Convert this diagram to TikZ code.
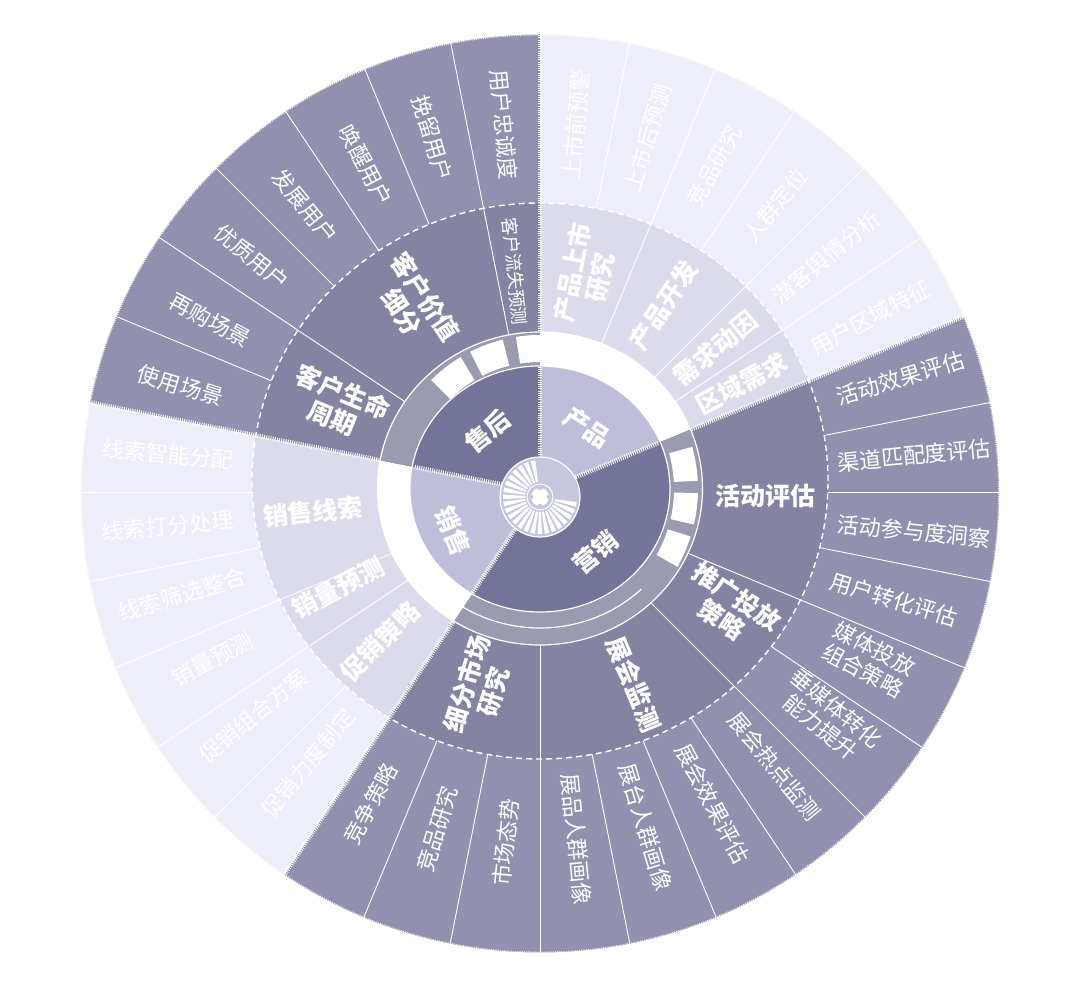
\documentclass[tikz,border=0pt]{standalone}
\usepackage{fontspec}
\setmainfont{Noto Sans CJK SC}
\definecolor{Lthree}{HTML}{9191AF}
\definecolor{Ltwo}{HTML}{8484A2}
\definecolor{Lone}{HTML}{747498}
\definecolor{Band}{HTML}{9A9AB0}
\definecolor{Pone}{HTML}{BEBEDA}
\definecolor{Ptwo}{HTML}{DBDBEC}
\definecolor{Pthree}{HTML}{EEEEFA}
\definecolor{Centerc}{HTML}{C6C6DF}
\tikzset{
  tthree/.style={text=white, font=\fontsize{22}{25}\selectfont, align=center, inner sep=0pt},
  ttwo/.style={text=white, font=\fontsize{25}{28}\selectfont\bfseries, align=center, inner sep=0pt},
  tone/.style={text=white, font=\fontsize{25}{28}\selectfont\bfseries, inner sep=0pt},
  comb/.style={white, line width=4.5pt, dash pattern=on 0.9pt off 1.3pt},
  leafline/.style={white, line width=0.9pt},
  dashring/.style={white, line width=1.4pt, dash pattern=on 6pt off 4pt},
  bandline/.style={white, line width=1.2pt}
}
\newcommand\fillsector[6]{%
  \begin{scope}
    \clip (0,0) -- (#1:900) arc[start angle=#1, end angle=#2, radius=900pt] -- cycle;
    \fill[#3] (0,-1.5) circle[radius=459pt];
    \fill[#4] (0,11) ellipse[x radius=288pt, y radius=278pt];
    \fill[#5] (0,3.5) ellipse[x radius=162.5pt, y radius=156.5pt];
    \fill[#6] (0,3) ellipse[x radius=130pt, y radius=123pt];
  \end{scope}}
\newcommand\bandbox[4]{%
  \fill[white] ([shift={(0,3)}]#1:#3) arc[start angle=#1, end angle=#2, radius=#3pt]
    -- ([shift={(0,3)}]#2:#4) arc[start angle=#2, end angle=#1, radius=#4pt] -- cycle;}
\begin{document}
\begin{tikzpicture}[x=1pt,y=1pt]
\fill[white] (-540,-495) rectangle (540,492);
% sectors: level 3, level 2, band, level 1
\fillsector{22.5}{90}{Pthree}{Ptwo}{white}{Pone}
\fillsector{-123.75}{22.5}{Lthree}{Ltwo}{Band}{Lone}
\fillsector{168.75}{236.25}{Pthree}{Ptwo}{white}{Pone}
\fillsector{90}{168.75}{Lthree}{Ltwo}{Band}{Lone}
% white blocks in the band
\bandbox{90}{99}{127}{154}
\bandbox{104}{117}{127}{154}
\bandbox{121}{135}{127}{154}
\bandbox{3}{15.5}{134}{158}
\bandbox{-13}{-1.5}{134}{158}
\bandbox{-29.5}{-17.5}{134}{158}
\draw[bandline] (0,3) ellipse[x radius=130pt, y radius=123pt];
\draw[bandline] (0,3.5) ellipse[x radius=162.5pt, y radius=156.5pt];
\draw[bandline] (0,3) ++(-46:146 and 139) arc[start angle=-46, end angle=-123.75, x radius=146pt, y radius=139pt];
% leaf lines in the outer ring
\begin{scope}[even odd rule]
  \clip (0,-1.5) circle[radius=459pt] (0,11) ellipse[x radius=288pt, y radius=278pt];
  \foreach \a in {78.75,56.25,11.25,0,-11.25,-33.75,-56.25,-67.5,-78.75,-101.25,-112.5,-135,-168.75,-180,157.5,135,123.75,112.5}
    \draw[leafline] (\a:240) -- (\a:470);
\end{scope}
% lines between second-level sectors
\begin{scope}[even odd rule]
  \clip (0,-1.5) circle[radius=459pt] (0,3.5) ellipse[x radius=162.5pt, y radius=156.5pt];
  \foreach \a in {67.5,45,33.75,-22.5,-45,-90,-146.25,-157.5,146.25,101.25}
    \draw[leafline] (\a:140) -- (\a:470);
\end{scope}
\draw[dashring] (0,11) ellipse[x radius=288pt, y radius=278pt];
\draw[white, line width=0.8pt, dash pattern=on 1pt off 1.2pt] (0,-1.5) circle[radius=458.5pt];
% main boundaries (comb lines)
\draw[comb] (90:30) -- (90:125);
\draw[comb] (90:161) -- (90:457);
\draw[comb] (22.5:30) -- (22.5:129);
\draw[comb] (22.5:164) -- (22.5:458);
\draw[comb] (-123.75:30) -- (-123.75:121.5);
\draw[comb] (-123.75:156.5) -- (-123.75:459.5);
\draw[comb] (168.75:30) -- (168.75:129);
\draw[comb] (168.75:164) -- (168.75:458);
% center decoration
\begin{scope}[shift={(0,-5)}]
  \fill[Centerc] (0,0) circle[radius=40pt];
  \foreach \a in {97.5,108.75,...,345}
    \fill[white] (\a:15) -- (\a:37) arc[start angle=\a, end angle=\a+7, radius=37pt] -- (\a+7:15) arc[start angle=\a+7, end angle=\a, radius=15pt] -- cycle;
  \draw[white, line width=1.2pt] (0,0) circle[radius=40pt];
  \fill[Centerc] (0,0) circle[radius=14pt];
  \draw[white, line width=1pt] (0,0) circle[radius=13pt];
  \fill[white] (0,0) circle[radius=9pt];
  \foreach \a in {0,90,180,270}
    \fill[Centerc] (\a:9.5) circle[radius=2.6pt];
\end{scope}
% level 1 labels
\node[tone, rotate=-33.75] (a1) at (54:80) {产品};
\node[tone, rotate=39.4] (a2) at (-47:82) {营销};
\node[tone, rotate=-67.5] (a3) at (-156:95) {销售};
\node[tone, rotate=39.4] (a4) at (131:80) {售后};
% level 2 labels
\node[ttwo, rotate=78.75] (b1) at (78:222) {产品上市\\研究};
\node[ttwo, rotate=56.25] (b2) at (56.5:224) {产品开发};
\node[ttwo, rotate=39.4] (b3) at (39.4:227) {需求动因};
\node[ttwo, rotate=28.1] (b4) at (28.3:229) {区域需求};
\node[ttwo] (b5) at (-1:226) {活动评估};
\node[ttwo, rotate=-33.75] (b6) at (-31.5:222) {推广投放\\策略};
\node[ttwo, rotate=-67.5] (b7) at (-64:214) {展会监测};
\node[ttwo, rotate=73.1] (b8) at (-107:205) {细分市场\\研究};
\node[ttwo, rotate=45] (b9) at (-137:219) {促销策略};
\node[ttwo, rotate=28.1] (b10) at (-154.6:224) {销量预测};
\node[ttwo, rotate=5.6] (b11) at (-175:228) {销售线索};
\node[ttwo, rotate=-22.5] (b12) at (156.7:220) {客户生命\\周期};
\node[ttwo, rotate=-56.25] (b13) at (124:226) {客户价值\\细分};
\node[text=white, inner sep=0pt, font=\fontsize{18}{20}\selectfont, rotate=-84.4] (b14) at (96.5:222) {客户流失预测};
% level 3 labels
\node[tthree, rotate=84.4] (c1) at (84.4:369) {上市前预警};
\node[tthree, rotate=73.1] (c2) at (73.1:370) {上市后预测};
\node[tthree, rotate=61.9] (c3) at (61.9:370) {竞品研究};
\node[tthree, rotate=50.6] (c4) at (50.6:371) {人群定位};
\node[tthree, rotate=39.4] (c5) at (39.4:370) {潜客舆情分析};
\node[tthree, rotate=28.1] (c6) at (27.8:374) {用户区域特征};
\node[tthree, rotate=16.9] (c7) at (17.5:378) {活动效果评估};
\node[tthree, rotate=5.6] (c8) at (5.6:376) {渠道匹配度评估};
\node[tthree, rotate=-5.6] (c9) at (-6:376) {活动参与度洞察};
\node[tthree, rotate=-16.9] (c10) at (-16.9:370) {用户转化评估};
\node[tthree, rotate=-28.1] (c11) at (-27:369) {媒体投放\\组合策略};
\node[tthree, rotate=-39.4] (c12) at (-38:366) {垂媒体转化\\能力提升};
\node[tthree, rotate=-50.6] (c13) at (-49.5:361) {展会热点监测};
\node[tthree, rotate=-61.9] (c14) at (-61:356) {展会效果评估};
\node[tthree, rotate=-73.1] (c15) at (-72.5:351) {展台人群画像};
\node[tthree, rotate=-84.4] (c16) at (-84:349) {展品人群画像};
\node[tthree, rotate=84.4] (c17) at (-95.6:352) {市场态势};
\node[tthree, rotate=73.1] (c18) at (-107:352) {竞品研究};
\node[tthree, rotate=61.9] (c19) at (-118.5:355) {竞争策略};
\node[tthree, rotate=50.6] (c20) at (-130.5:357) {促销力度制定};
\node[tthree, rotate=39.4] (c21) at (-142:364) {促销组合方案};
\node[tthree, rotate=28.1] (c22) at (-153:368) {销量预测};
\node[tthree, rotate=16.9] (c23) at (-164:372) {线索筛选整合};
\node[tthree, rotate=5.6] (c24) at (-174.8:374) {线索打分处理};
\node[tthree, rotate=-5.6] (c25) at (174.2:374) {线索智能分配};
\node[tthree, rotate=-16.9] (c26) at (163.5:375) {使用场景};
\node[tthree, rotate=-28.1] (c27) at (152.5:372) {再购场景};
\node[tthree, rotate=-39.4] (c28) at (140.8:372) {优质用户};
\node[tthree, rotate=-50.6] (c29) at (129.4:370) {发展用户};
\node[tthree, rotate=-61.9] (c30) at (118.1:370) {唤醒用户};
\node[tthree, rotate=-73.1] (c31) at (106.9:370) {挽留用户};
\node[tthree, rotate=-84.4] (c32) at (95.6:369) {用户忠诚度};
\pgfresetboundingbox
\useasboundingbox (-540,-495) rectangle (540,492);
\end{tikzpicture}
\end{document}
